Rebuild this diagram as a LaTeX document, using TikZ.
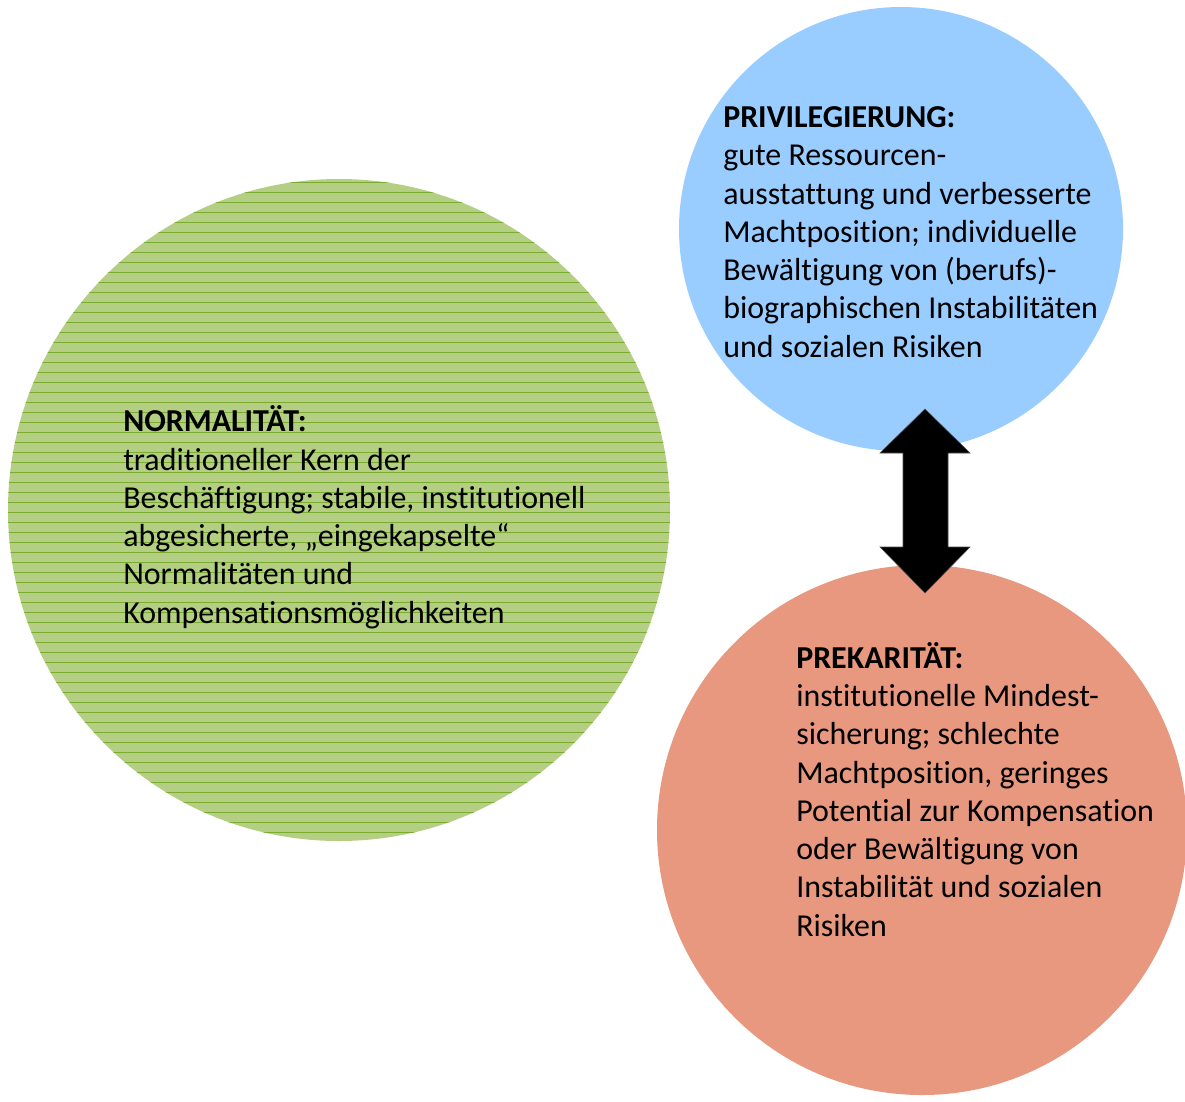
\documentclass[tikz,border=0pt]{standalone}
\usepackage{fontspec}
\setmainfont{Carlito}[Ligatures=NoCommon]

\definecolor{normgreen}{RGB}{180,207,132}
\definecolor{normline}{RGB}{122,172,45}
\definecolor{privblue}{RGB}{153,204,255}
\definecolor{prekred}{RGB}{231,152,127}

\begin{document}
\begin{tikzpicture}[x=0.025cm,y=-0.025cm,
    circtext/.style={anchor=base west,align=left,inner sep=0pt,
      font=\fontsize{22.7}{27.2}\selectfont}]
    \useasboundingbox (0,0) rectangle (1185,1101);
    % circles
    \fill[normgreen] (339,510) circle[radius=331];
    \begin{scope}
        \clip (339,510) circle[radius=331];
        \foreach \y in {182,192,...,842}
            \draw[normline,line width=0.5pt] (0,\y) -- (680,\y);
    \end{scope}
    \fill[privblue] (901,229) circle[radius=222];
    \fill[prekred] (922,830) circle[radius=265];
    % double arrow
    \draw[fill=black,draw=black!70,line width=0.4pt]
    (925,409) -- (970,453) -- (948,453) -- (948,547) -- (970,547)
    -- (925,593) -- (880,547) -- (903,547) -- (903,453) -- (880,453) -- cycle;
    % texts (base = last line)
    \node[circtext] (norm) at (123,623)
    {\textbf{NORMALITÄT:}\\ traditioneller Kern der\\
     Beschäftigung; stabile, institutionell\\ abgesicherte, „eingekapselte“\\
     Normalitäten und\\ Kompensationsmöglichkeiten};
    \node[circtext] (priv) at (723,357)
    {\textbf{PRIVILEGIERUNG:}\\ gute Ressourcen-\\ ausstattung und verbesserte\\
     Machtposition; individuelle\\ Bewältigung von (berufs)-\\
     biographischen Instabilitäten\\ und sozialen Risiken};
    \node[circtext] (prek) at (796,936)
    {\textbf{PREKARITÄT:}\\ institutionelle Mindest-\\ sicherung; schlechte\\
     Machtposition, geringes\\ Potential zur Kompensation\\
     oder Bewältigung von\\ Instabilität und sozialen\\ Risiken};
\end{tikzpicture}
\end{document}
